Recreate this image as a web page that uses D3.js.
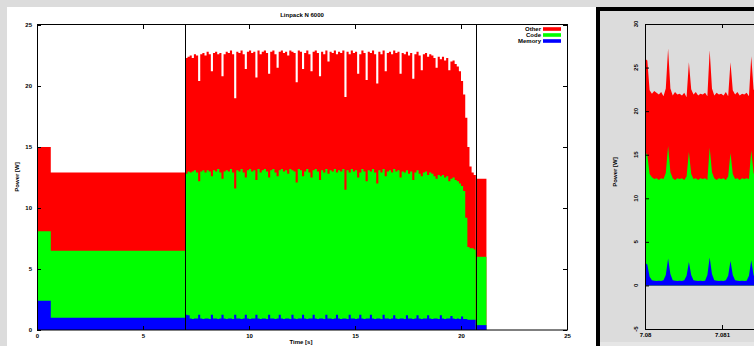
<!DOCTYPE html>
<html>
<head>
<meta charset="utf-8">
<script src="https://cdn.jsdelivr.net/npm/d3@7"></script>
<style>
  body { margin: 0; background: #dcdcdc; }
  svg { display: block; }
  text { font-family: "Liberation Sans", Arial, sans-serif; font-weight: bold; font-size: 6px; fill: #000; }
</style>
</head>
<body>
<svg id="chart" width="754" height="346"></svg>
<script>
// ---- left chart: whole Linpack run (stacked levels, W) ----
const seriesNames = ["Other", "Code", "Memory"];
const seriesColors = ["#ff0000", "#00ff00", "#0000ff"];

const setupTime = [0, 0.65, 7.0];
const setupMemory = [2.4, 1.0, 1.0];
const setupCode = [8.1, 6.5, 6.5];
const setupTotal = [15.0, 12.9, 12.9];

const solveStart = 7.0;
const solveStep = 0.1;
const solveEnd = 20.7;
const solveTotal = [
  22.3, 22.4, 22.5, 22.3, 22.6, 22.5, 20.4, 22.6, 22.7, 22.5,
  22.8, 22.6, 21.2, 22.7, 22.8, 22.6, 22.7, 20.8, 22.6, 22.8,
  22.7, 22.9, 22.6, 19.0, 22.8, 22.7, 22.9, 22.6, 21.4, 22.8,
  22.9, 22.7, 22.8, 20.7, 22.9, 22.6, 22.8, 22.9, 22.7, 21.0,
  22.8, 22.9, 22.6, 21.5, 22.8, 22.9, 22.7, 22.8, 22.5, 22.9,
  22.8, 22.7, 20.3, 22.9, 22.8, 21.4, 22.7, 22.9, 22.6, 21.2,
  22.8, 22.9, 22.7, 20.8, 22.8, 22.6, 22.9, 22.0, 22.8, 22.7,
  22.9, 22.6, 22.8, 22.7, 22.9, 19.1, 22.8, 22.6, 22.9, 22.7,
  22.8, 21.0, 22.6, 22.9, 22.7, 20.5, 22.8, 22.7, 22.9, 22.6,
  20.2, 22.8, 22.6, 22.9, 21.2, 22.7, 22.8, 22.6, 22.9, 22.7,
  22.8, 21.0, 22.7, 22.6, 22.8, 22.5, 22.7, 20.6, 22.6, 22.8,
  22.5, 21.3, 22.6, 22.7, 22.4, 22.6, 22.5, 22.3, 21.5, 22.4,
  22.2, 22.4, 22.1, 22.3, 21.3, 22.0, 22.1, 21.8, 21.6, 21.2,
  20.4, 19.3, 17.4, 15.0, 13.4, 12.9, 12.7
];
const solveCode = [
  12.8, 13.0, 12.9, 13.0, 13.1, 12.9, 12.2, 13.0, 13.1, 12.9,
  13.1, 13.0, 12.6, 13.1, 13.0, 13.2, 12.9, 12.4, 13.0, 13.1,
  13.0, 13.2, 12.9, 11.6, 13.1, 13.0, 13.2, 12.9, 12.5, 13.1,
  13.2, 13.0, 13.1, 12.3, 13.2, 12.9, 13.1, 13.2, 13.0, 12.5,
  13.1, 13.2, 12.9, 12.6, 13.1, 13.2, 13.0, 13.1, 12.8, 13.2,
  13.1, 13.0, 12.1, 13.2, 13.1, 12.6, 13.0, 13.2, 12.9, 12.5,
  13.1, 13.2, 13.0, 12.3, 13.1, 12.9, 13.2, 12.8, 13.1, 13.0,
  13.2, 12.9, 13.1, 13.0, 13.2, 11.5, 13.1, 12.9, 13.2, 13.0,
  13.1, 12.5, 12.9, 13.2, 13.0, 12.2, 13.1, 13.0, 13.2, 12.9,
  12.0, 13.1, 12.9, 13.2, 12.6, 13.0, 13.1, 12.9, 13.2, 13.0,
  13.1, 12.5, 13.0, 12.9, 13.1, 12.8, 13.0, 12.3, 12.9, 13.1,
  12.8, 12.6, 12.9, 13.0, 12.7, 12.9, 12.8, 12.6, 12.4, 12.7,
  12.6, 12.7, 12.5, 12.6, 12.2, 12.4, 12.5, 12.3, 12.2, 12.0,
  11.8, 11.4, 9.2, 6.8, 6.7, 6.7, 6.6
];
const solveMemory = [
  1.25, 1.2, 0.95, 0.9, 0.95, 0.95, 1.25, 0.95, 0.9, 0.95,
  0.95, 0.9, 1.25, 0.95, 0.95, 0.9, 0.95, 1.25, 0.95, 0.9,
  0.95, 0.95, 0.9, 1.25, 0.95, 0.95, 0.9, 0.95, 1.25, 0.95,
  0.9, 0.95, 0.95, 1.25, 0.95, 0.9, 0.95, 0.95, 0.9, 1.25,
  0.95, 0.95, 0.9, 0.95, 1.25, 0.95, 0.9, 0.95, 0.95, 0.9,
  1.25, 0.95, 0.9, 0.95, 0.95, 1.25, 0.95, 0.9, 0.95, 0.95,
  1.25, 0.95, 0.9, 0.95, 0.95, 0.9, 1.25, 0.95, 0.95, 0.9,
  0.95, 1.25, 0.95, 0.9, 0.95, 0.95, 0.9, 1.25, 0.95, 0.95,
  0.9, 0.95, 1.25, 0.95, 0.9, 0.95, 0.95, 1.25, 0.95, 0.9,
  0.95, 0.95, 0.9, 1.25, 0.95, 0.95, 0.9, 0.95, 1.2, 0.95,
  0.9, 0.95, 0.95, 0.9, 1.2, 0.95, 0.95, 0.9, 0.95, 1.2,
  0.95, 0.9, 0.95, 0.95, 1.2, 0.95, 0.9, 0.95, 0.95, 0.9,
  1.2, 0.95, 0.9, 0.95, 0.95, 1.15, 0.95, 0.9, 0.95, 0.9,
  1.1, 0.9, 0.9, 0.85, 0.85, 0.85, 0.85
];

const checkTime = [20.7, 21.2];
const checkMemory = [0.4, 0.4];
const checkCode = [6.0, 6.0];
const checkTotal = [12.4, 12.4];

const phaseMarks = [7.0, 20.7];
const xTicks = [0, 5, 10, 15, 20, 25];
const yTicks = [0, 5, 10, 15, 20, 25];

// ---- right chart: zoom on a few iterations ----
const zoomStart = 7.08;
const zoomStep = 0.00003;
const zoomTotal = [
  26.0, 25.8, 22.4, 22.0, 22.3, 22.1, 21.9, 22.2, 21.7, 22.6,
  27.2, 22.6, 21.8, 22.2, 21.9, 22.0, 21.8, 22.1, 21.6, 25.6,
  22.5, 21.9, 22.2, 21.8, 22.0, 21.9, 22.1, 21.7, 27.0, 22.6,
  21.8, 22.1, 21.9, 22.0, 21.8, 22.2, 21.7, 25.6, 22.4, 21.9,
  22.2, 21.8, 22.0, 21.9, 22.1, 21.7, 26.3, 22.5, 21.9, 22.2, 21.8
];
const zoomCode = [
  15.3, 15.0, 12.8, 12.4, 12.2, 12.3, 12.1, 12.3, 12.2, 12.9,
  16.0, 13.0, 12.3, 12.1, 12.3, 12.2, 12.3, 12.1, 12.5, 15.3,
  12.8, 12.2, 12.3, 12.1, 12.3, 12.2, 12.3, 12.1, 15.8, 13.0,
  12.3, 12.1, 12.3, 12.2, 12.3, 12.1, 12.5, 15.2, 12.8, 12.2,
  12.3, 12.1, 12.3, 12.2, 12.3, 12.2, 15.5, 12.9, 12.3, 12.1, 12.3
];
const zoomMemory = [
  2.6, 2.4, 1.0, 0.6, 0.55, 0.5, 0.55, 0.5, 0.6, 1.2,
  3.1, 1.3, 0.6, 0.55, 0.5, 0.55, 0.5, 0.6, 1.1, 2.7,
  1.2, 0.6, 0.55, 0.5, 0.55, 0.5, 0.55, 1.2, 3.2, 1.3,
  0.6, 0.55, 0.5, 0.55, 0.5, 0.6, 1.1, 2.8, 1.2, 0.6,
  0.55, 0.5, 0.55, 0.5, 0.55, 1.1, 2.9, 1.2, 0.6, 0.55, 0.5
];
const zoomXTicks = [7.08, 7.081];
const zoomYTicks = [-5, 0, 5, 10, 15, 20, 25, 30];

const svg = d3.select("#chart");

// panels
svg.append("rect").attr("x", 7).attr("y", 7).attr("width", 592).attr("height", 339).attr("fill", "#fff");
svg.append("rect").attr("x", 600).attr("y", 342).attr("width", 154).attr("height", 4).attr("fill", "#e6e6e6");

function toRows(times, mem, code, total) {
  return times.map((t, i) => ({ t: t, mem: mem[i], code: code[i], total: total[i] }));
}

// ================= left chart =================
const x = d3.scaleLinear().domain([0, 25]).range([37, 567]);
const y = d3.scaleLinear().domain([0, 25]).range([330, 25]);

svg.append("clipPath").attr("id", "clipL")
  .append("rect").attr("x", 37).attr("y", 25).attr("width", 530).attr("height", 305);

const solveTime = solveTotal.map((v, i) => solveStart + i * solveStep);
let solveRows = toRows(solveTime, solveMemory, solveCode, solveTotal);
solveRows.push({ t: solveEnd, mem: solveMemory[solveMemory.length - 1], code: solveCode[solveCode.length - 1], total: solveTotal[solveTotal.length - 1] });

const segments = [
  toRows(setupTime, setupMemory, setupCode, setupTotal),
  solveRows,
  toRows(checkTime, checkMemory, checkCode, checkTotal)
];

const gL = svg.append("g").attr("clip-path", "url(#clipL)");
const keys = ["total", "code", "mem"];

segments.forEach(rows => {
  keys.forEach((k, j) => {
    const area = d3.area()
      .curve(d3.curveStepAfter)
      .x(d => x(d.t))
      .y0(y(0))
      .y1(d => y(d[k]));
    gL.append("path").datum(rows).attr("d", area).attr("fill", seriesColors[j]);
  });
});

// phase separators
gL.selectAll(".mark").data(phaseMarks).enter().append("line")
  .attr("x1", d => Math.round(x(d)) + 0.5).attr("x2", d => Math.round(x(d)) + 0.5)
  .attr("y1", 25).attr("y2", 330)
  .attr("stroke", "#000").attr("stroke-width", 1);

// axes (gnuplot style, ticks inside + mirrored)
const axB = svg.append("g").attr("transform", "translate(0,330)")
  .call(d3.axisBottom(x).tickValues(xTicks).tickSize(-4).tickPadding(4));
const axT = svg.append("g").attr("transform", "translate(0,25)")
  .call(d3.axisTop(x).tickValues(xTicks).tickSize(-4).tickFormat(""));
const axL = svg.append("g").attr("transform", "translate(37,0)")
  .call(d3.axisLeft(y).tickValues(yTicks).tickSize(-4).tickPadding(5));
const axR = svg.append("g").attr("transform", "translate(567,0)")
  .call(d3.axisRight(y).tickValues(yTicks).tickSize(-4).tickFormat(""));
[axB, axT, axL, axR].forEach(a => {
  a.select(".domain").remove();
  a.selectAll("text").attr("font-size", null).attr("font-family", null);
  a.selectAll("line").attr("stroke", "#000");
});

svg.append("rect").attr("x", 37.5).attr("y", 24.5).attr("width", 530).attr("height", 305.5)
  .attr("fill", "none").attr("stroke", "#000").attr("stroke-width", 1);

svg.append("text").attr("x", 302).attr("y", 17).attr("text-anchor", "middle").text("Linpack N 6000");
svg.append("text").attr("x", 301).attr("y", 344).attr("text-anchor", "middle").text("Time [s]");
svg.append("text").attr("transform", "translate(19,177) rotate(-90)").attr("text-anchor", "middle").text("Power [W]");

// legend
const legend = svg.append("g").selectAll("g").data(seriesNames).enter().append("g")
  .attr("transform", (d, i) => `translate(541,${29 + i * 6})`);
legend.append("text").attr("text-anchor", "end").attr("dy", "0.35em").text(d => d);
legend.append("rect").attr("x", 2).attr("y", -1.8).attr("width", 18).attr("height", 3.6)
  .attr("fill", (d, i) => seriesColors[i]);

// ================= right chart =================
const x2 = d3.scaleLinear().domain([7.08, 7.082]).range([645, 799]);
const y2 = d3.scaleLinear().domain([-5, 30]).range([329, 24]);

svg.append("clipPath").attr("id", "clipR")
  .append("rect").attr("x", 645).attr("y", 24).attr("width", 154).attr("height", 305);

const zoomTime = zoomTotal.map((v, i) => zoomStart + i * zoomStep);
const zoomRows = toRows(zoomTime, zoomMemory, zoomCode, zoomTotal);

const gR = svg.append("g").attr("clip-path", "url(#clipR)");
keys.forEach((k, j) => {
  const area = d3.area()
    .x(d => x2(d.t))
    .y0(y2(0))
    .y1(d => y2(d[k]));
  gR.append("path").datum(zoomRows).attr("d", area).attr("fill", seriesColors[j]);
});

const bx2 = svg.append("g").attr("transform", "translate(0,329)")
  .call(d3.axisBottom(x2).tickValues(zoomXTicks).tickSize(-4).tickPadding(4).tickFormat(d3.format("")));
const tx2 = svg.append("g").attr("transform", "translate(0,24)")
  .call(d3.axisTop(x2).tickValues(zoomXTicks).tickSize(-4).tickFormat(""));
const ly2 = svg.append("g").attr("transform", "translate(645,0)")
  .call(d3.axisLeft(y2).tickValues(zoomYTicks).tickSize(-4).tickFormat(""));
[bx2, tx2, ly2].forEach(a => {
  a.select(".domain").remove();
  a.selectAll("text").attr("font-size", null).attr("font-family", null);
  a.selectAll("line").attr("stroke", "#000");
});

// rotated y tick labels, as in the source picture
svg.append("g").selectAll("text").data(zoomYTicks).enter().append("text")
  .attr("transform", d => `translate(638,${y2(d)}) rotate(-90)`)
  .attr("text-anchor", "middle")
  .text(d => d);

svg.append("path")
  .attr("d", `M799,24.5H645.5V329.5H799`)
  .attr("fill", "none").attr("stroke", "#000").attr("stroke-width", 1);

svg.append("text").attr("transform", "translate(617,172) rotate(-90)").attr("text-anchor", "middle").text("Power [W]");

// frame of the right picture
svg.append("path")
  .attr("d", "M598,346V9H760")
  .attr("fill", "none").attr("stroke", "#000").attr("stroke-width", 4);
</script>
</body>
</html>
